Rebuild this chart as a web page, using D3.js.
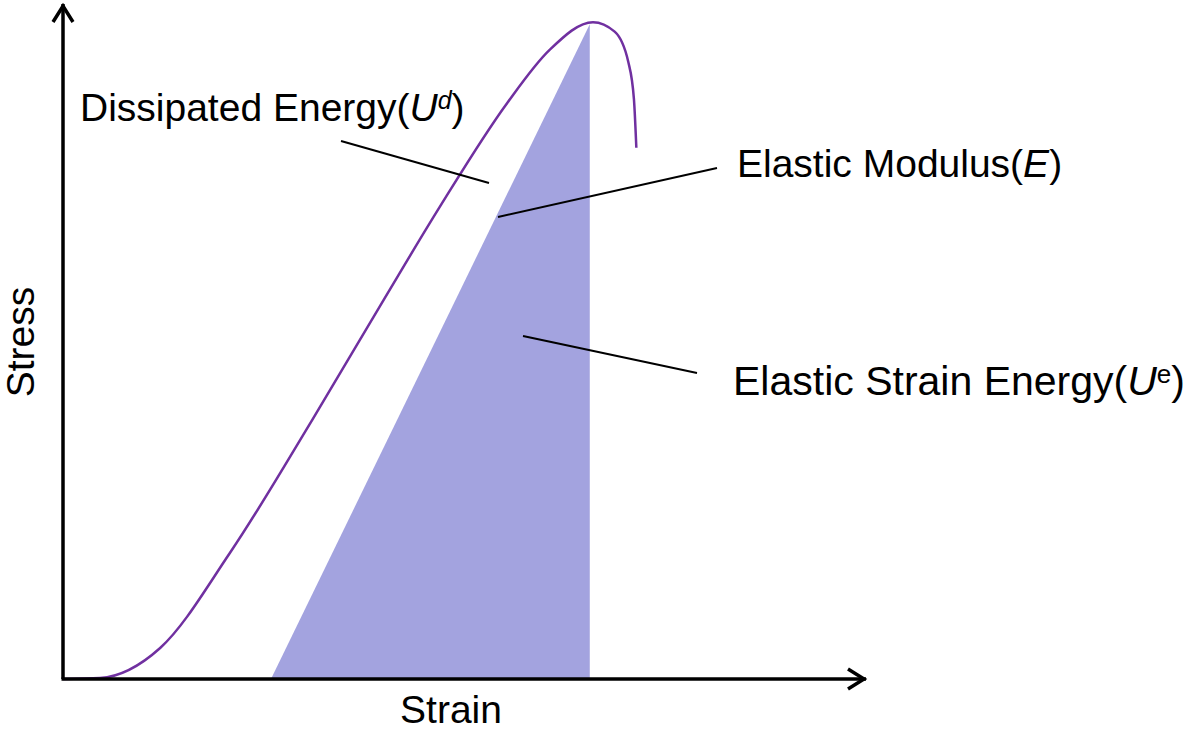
<!DOCTYPE html>
<html>
<head>
<meta charset="utf-8">
<script src="https://cdn.jsdelivr.net/npm/d3@7"></script>
<style>
  body { margin: 0; background: #fff; }
  text { font-family: "Liberation Sans", Arial, sans-serif; fill: #000; }
</style>
</head>
<body>
<div id="chart"></div>
<script>
// stress-strain curve, normalised units (strain 0..1, stress 0..1)
var strain = [0, 0.046, 0.121, 0.208, 0.311, 0.399, 0.469, 0.553, 0.606, 0.660, 0.687, 0.704, 0.711, 0.714];
var stress = [0, 0.0015, 0.046, 0.187, 0.385, 0.561, 0.699, 0.853, 0.932, 0.973, 0.959, 0.914, 0.859, 0.787];

// elastic strain energy triangle (unloading line)
var triStrain = [0.259, 0.656, 0.656];
var triStress = [0, 0.970, 0];

var svgWidth = 1192, svgHeight = 730;
var svg = d3.select("#chart").append("svg")
    .attr("width", svgWidth)
    .attr("height", svgHeight);

var x = d3.scaleLinear().domain([0, 1]).range([63, 866]);
var y = d3.scaleLinear().domain([0, 1]).range([679, 4]);

var curve = strain.map(function(s, i) { return [s, stress[i]]; });
var tri = triStrain.map(function(s, i) { return [s, triStress[i]]; });

// triangle
svg.append("path")
    .attr("d", d3.line().x(function(d) { return x(d[0]); }).y(function(d) { return y(d[1]); })(tri) + "Z")
    .attr("fill", "#a3a3df");

// curve
svg.append("path")
    .attr("d", d3.line()
        .x(function(d) { return x(d[0]); })
        .y(function(d) { return y(d[1]); })
        .curve(d3.curveMonotoneX)(curve))
    .attr("fill", "none")
    .attr("stroke", "#7030a0")
    .attr("stroke-width", 2.5);

// axes with arrow heads
var ax = svg.append("g").attr("stroke", "#000").attr("fill", "none").attr("stroke-width", 3.5);
ax.append("line").attr("x1", x(0)).attr("y1", y(0)).attr("x2", x(0)).attr("y2", y(1));
ax.append("line").attr("x1", x(0) - 1.5).attr("y1", y(0)).attr("x2", x(1)).attr("y2", y(0));
ax.append("path")
    .attr("d", "M" + (x(0) - 10) + "," + (y(1) + 18) + "L" + x(0) + "," + (y(1) + 2) + "L" + (x(0) + 10) + "," + (y(1) + 18));
ax.append("path")
    .attr("d", "M" + (x(1) - 18) + "," + (y(0) - 10) + "L" + (x(1) - 2) + "," + y(0) + "L" + (x(1) - 18) + "," + (y(0) + 10));

// leader lines
var leaders = [
    [[341, 141], [489, 183]],
    [[498, 217], [717, 168]],
    [[523, 336], [697, 373]]
];
svg.selectAll(".leader")
    .data(leaders)
    .enter().append("line")
    .attr("x1", function(d) { return d[0][0]; })
    .attr("y1", function(d) { return d[0][1]; })
    .attr("x2", function(d) { return d[1][0]; })
    .attr("y2", function(d) { return d[1][1]; })
    .attr("stroke", "#000")
    .attr("stroke-width", 2);

var fs = 39;

// axis titles
svg.append("text")
    .attr("x", 451).attr("y", 723)
    .attr("text-anchor", "middle")
    .style("font-size", fs + "px")
    .text("Strain");
svg.append("text")
    .attr("transform", "translate(34,342) rotate(-90)")
    .attr("text-anchor", "middle")
    .style("font-size", fs + "px")
    .text("Stress");

// annotations
function label(xp, yp, size, main, sym, sup, supItalic) {
    var t = svg.append("text")
        .attr("x", xp).attr("y", yp)
        .style("font-size", size + "px");
    t.append("tspan").text(main + "(");
    t.append("tspan").style("font-style", "italic").text(sym);
    if (sup) {
        t.append("tspan")
            .attr("dy", -12)
            .style("font-size", Math.round(size * 0.63) + "px")
            .style("font-style", supItalic ? "italic" : "normal")
            .text(sup);
        t.append("tspan").attr("dy", 12).text(")");
    } else {
        t.append("tspan").text(")");
    }
}
label(80, 121, fs, "Dissipated Energy", "U", "d", true);
label(737, 177, fs, "Elastic Modulus", "E", null, false);
label(733, 395, 41, "Elastic Strain Energy", "U", "e", false);
</script>
</body>
</html>
